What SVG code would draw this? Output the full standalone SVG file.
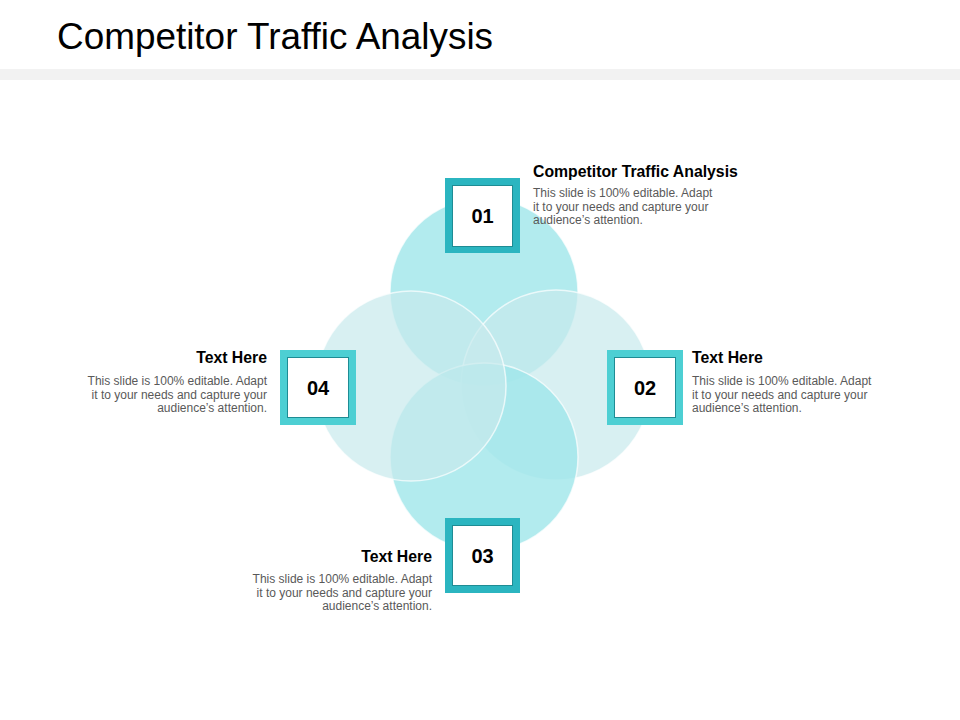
<svg xmlns="http://www.w3.org/2000/svg" width="960" height="720" viewBox="0 0 960 720">
<style>
.title{font-family:"Liberation Sans",Arial,sans-serif;font-size:36.9px;fill:#000}
.head{font-family:"Liberation Sans",Arial,sans-serif;font-size:15.8px;font-weight:bold;fill:#000}
.body{font-family:"Liberation Sans",Arial,sans-serif;font-size:12px;fill:#595959}
.num{font-family:"Liberation Sans",Arial,sans-serif;font-size:20px;font-weight:bold;fill:#000;text-anchor:middle}
.r{text-anchor:end}
.circA{fill:#9FE6EA;fill-opacity:.8;stroke:#fff;stroke-width:1.5;stroke-opacity:.7}
.circB{fill:#C8E9ED;fill-opacity:.7;stroke:#fff;stroke-width:1.5;stroke-opacity:.7}
.inner{fill:#fff;stroke:#1E8C94;stroke-width:1}
.dark{fill:#2BB5C0}
.light{fill:#4DCFD3}
</style>
<rect width="960" height="720" fill="#fff"/>
<text class="title" x="57" y="49">Competitor Traffic Analysis</text>
<rect x="0" y="69" width="960" height="11" fill="#F2F2F2"/>
<g id="circles">
<circle class="circA" cx="484" cy="292" r="94"/>
<circle class="circB" cx="556" cy="385" r="95"/>
<circle class="circA" cx="484" cy="457" r="94"/>
<circle class="circB" cx="411" cy="386" r="95"/>
</g>
<g id="connectors"></g>
<g id="node01">
<rect class="dark" x="445" y="178" width="75" height="75"/>
<rect class="inner" x="452.5" y="185.5" width="60" height="61"/>
<text class="num" x="482.5" y="223">01</text>
<text class="head" x="533" y="177">Competitor Traffic Analysis</text>
<text class="body" x="533" y="197">This slide is 100% editable. Adapt</text>
<text class="body" x="533" y="210.5">it to your needs and capture your</text>
<text class="body" x="533" y="224">audience’s attention.</text>
</g>
<g id="node02">
<rect class="light" x="607" y="350" width="76" height="75"/>
<rect class="inner" x="614.5" y="357.5" width="61" height="60"/>
<text class="num" x="645" y="395">02</text>
<text class="head" x="692" y="363">Text Here</text>
<text class="body" x="692" y="385">This slide is 100% editable. Adapt</text>
<text class="body" x="692" y="398.5">it to your needs and capture your</text>
<text class="body" x="692" y="412">audience’s attention.</text>
</g>
<g id="node03">
<rect class="dark" x="445" y="518" width="75" height="75"/>
<rect class="inner" x="452.5" y="525.5" width="60" height="60"/>
<text class="num" x="482.5" y="563">03</text>
<text class="head r" x="432" y="562">Text Here</text>
<text class="body r" x="432" y="583">This slide is 100% editable. Adapt</text>
<text class="body r" x="432" y="596.5">it to your needs and capture your</text>
<text class="body r" x="432" y="610">audience’s attention.</text>
</g>
<g id="node04">
<rect class="light" x="280" y="350" width="76" height="75"/>
<rect class="inner" x="287.5" y="357.5" width="61" height="60"/>
<text class="num" x="318" y="395">04</text>
<text class="head r" x="267" y="363">Text Here</text>
<text class="body r" x="267" y="385">This slide is 100% editable. Adapt</text>
<text class="body r" x="267" y="398.5">it to your needs and capture your</text>
<text class="body r" x="267" y="412">audience’s attention.</text>
</g>
</svg>
